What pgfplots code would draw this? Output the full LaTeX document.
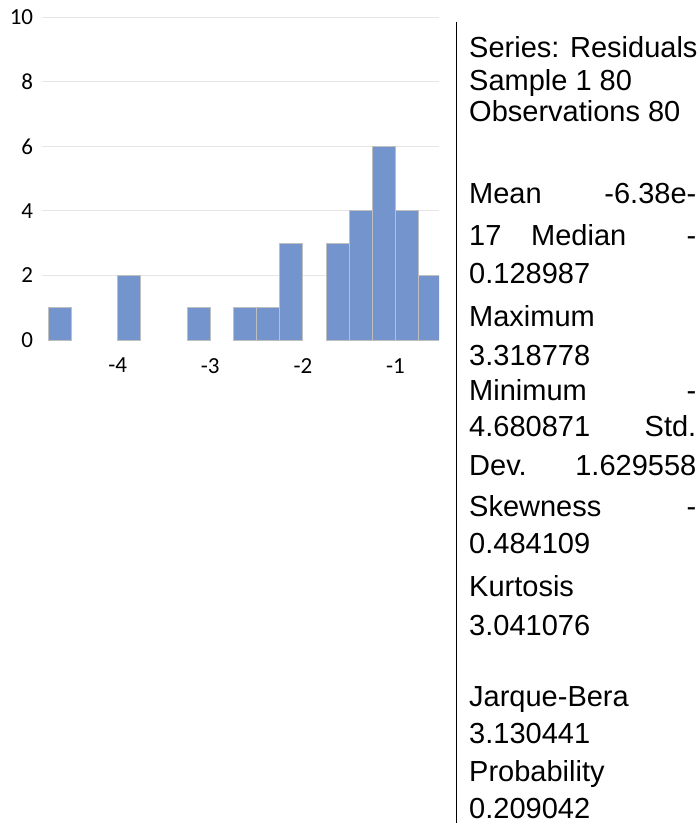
\documentclass[border=0pt]{standalone}
\usepackage{pgfplots}
\pgfplotsset{compat=1.18}
\usepackage{fontspec}
\setmainfont{Liberation Sans}
\newfontfamily\carlito{Carlito}
\definecolor{barfill}{HTML}{7394CC}
\definecolor{bardraw}{HTML}{BFBFBF}
\definecolor{gridc}{HTML}{E6E6E6}
\begin{document}
\begin{tikzpicture}[txt/.style={inner sep=0pt, font=\fontsize{29}{29}\selectfont, text=black}]
\useasboundingbox (0pt,0pt) rectangle (700pt,-823pt);
\begin{axis}[
  at={(41.7pt,-340pt)}, anchor=south west,
  scale only axis, width=397.3pt, height=322.7pt,
  xmin=-4.82, xmax=-0.53, ymin=0, ymax=10,
  axis line style={draw=none},
  major tick style={draw=none},
  ytick={2,4,6,8,10}, yticklabels={2,4,6,8,10},
  extra y ticks={0}, extra y tick labels={0},
  extra y tick style={grid=none},
  ymajorgrids, grid style={gridc, line width=1pt},
  xtick={-4,-3,-2,-1}, xticklabels={-4,-3,-2,-1},
  ticklabel style={font=\carlito\fontsize{23}{23}\selectfont, text=black},
  yticklabel style={inner sep=0pt, anchor=east, xshift=-8.4pt},
  xticklabel style={inner sep=0pt, anchor=north, yshift=-18pt},
  clip=true,
]
\addplot[ybar, bar width=0.25, fill=barfill, draw=bardraw, line width=1pt] coordinates {
(-4.625,1) (-3.875,2) (-3.125,1) (-2.625,1) (-2.375,1) (-2.125,3)
(-1.625,3) (-1.375,4) (-1.125,6) (-0.875,4) (-0.625,2)
};
\end{axis}
\draw[line width=1.3pt] (456.7pt,-21.7pt) -- (456.7pt,-823pt);
\node[txt, anchor=base west] at (469pt,-57.3pt) {Series: Residuals};
\node[txt, anchor=base west] at (469pt,-90pt) {Sample 1 80};
\node[txt, anchor=base west] at (469pt,-121.7pt) {Observations 80};
\node[txt, anchor=base west] at (469pt,-203.3pt) {Mean};
\node[txt, anchor=base east] at (696.5pt,-203.3pt) {-6.38e-};
\node[txt, anchor=base west] at (469pt,-245pt) {17};
\node[txt, anchor=base west] at (531pt,-245pt) {Median};
\node[txt, anchor=base east] at (696.5pt,-245pt) {-};
\node[txt, anchor=base west] at (469pt,-283.3pt) {0.128987};
\node[txt, anchor=base west] at (469pt,-326.7pt) {Maximum};
\node[txt, anchor=base west] at (469pt,-365pt) {3.318778};
\node[txt, anchor=base west] at (469pt,-400pt) {Minimum};
\node[txt, anchor=base east] at (696.5pt,-400pt) {-};
\node[txt, anchor=base west] at (469pt,-436.7pt) {4.680871};
\node[txt, anchor=base east] at (696.5pt,-436.7pt) {Std.};
\node[txt, anchor=base west] at (469pt,-475pt) {Dev.};
\node[txt, anchor=base east] at (696.5pt,-475pt) {1.629558};
\node[txt, anchor=base west] at (469pt,-516.7pt) {Skewness};
\node[txt, anchor=base east] at (696.5pt,-516.7pt) {-};
\node[txt, anchor=base west] at (469pt,-553.3pt) {0.484109};
\node[txt, anchor=base west] at (469pt,-596.7pt) {Kurtosis};
\node[txt, anchor=base west] at (469pt,-635pt) {3.041076};
\node[txt, anchor=base west] at (469pt,-706.7pt) {Jarque-Bera};
\node[txt, anchor=base west] at (469pt,-743.3pt) {3.130441};
\node[txt, anchor=base west] at (469pt,-781.7pt) {Probability};
\node[txt, anchor=base west] at (469pt,-818.3pt) {0.209042};
\end{tikzpicture}
\end{document}
